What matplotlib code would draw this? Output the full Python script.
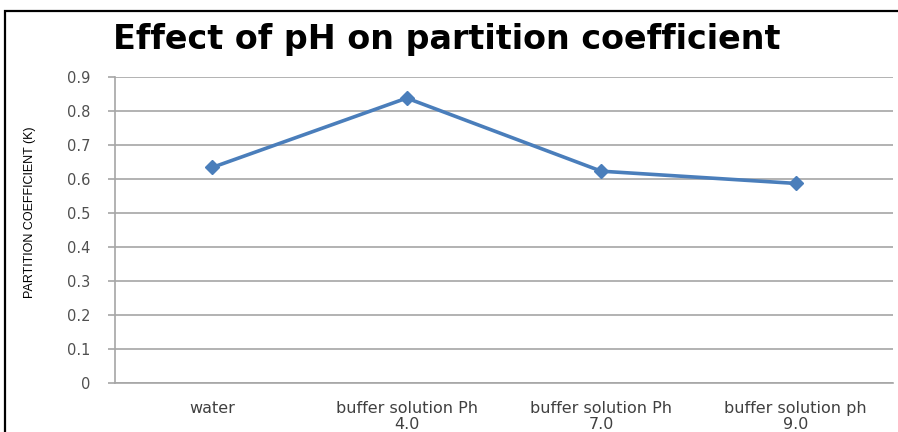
import numpy as np
import matplotlib.pyplot as plt
from matplotlib.patches import Rectangle

categories = ['water', 'buffer solution Ph\n4.0', 'buffer solution Ph\n7.0', 'buffer solution ph\n9.0']
k_values = [0.634, 0.838, 0.623, 0.587]
yticks = [0, 0.1, 0.2, 0.3, 0.4, 0.5, 0.6, 0.7, 0.8, 0.9]
ytick_labels = ['0', '0.1', '0.2', '0.3', '0.4', '0.5', '0.6', '0.7', '0.8', '0.9']

fig = plt.figure(figsize=(8.98, 4.32), dpi=100)
ax = fig.add_axes([115/898, 1-383/432, (893-115)/898, (383-77)/432])

x = np.arange(len(categories))
ax.plot(x, k_values, color='#4a7ebb', lw=2.6, marker='D', ms=7.5,
        markerfacecolor='#4a7ebb', markeredgecolor='#4a7ebb', zorder=3)

ax.set_xlim(-0.5, len(categories) - 0.5)
ax.set_ylim(0, 0.9)
ax.set_yticks(yticks)
ax.set_yticklabels(ytick_labels)
ax.set_xticks(x)
ax.set_xticklabels(categories)
ax.grid(axis='y', color='#a6a6a6', lw=1.2)
ax.set_axisbelow(True)

for s in ['top', 'right']:
    ax.spines[s].set_visible(False)
for s in ['left', 'bottom']:
    ax.spines[s].set_color('#a6a6a6')
    ax.spines[s].set_linewidth(1.2)

ax.tick_params(axis='y', length=5, color='#a6a6a6', width=1.2, pad=13,
               labelsize=10.5, labelcolor='#505050')
ax.tick_params(axis='x', length=0, pad=13, labelsize=11.5, labelcolor='#404040')
for lab in ax.get_xticklabels():
    lab.set_verticalalignment('top')
    lab.set_linespacing(1.05)

ax.set_ylabel('PARTITION COEFFICIENT (K)', fontsize=9,
              family=['Liberation Sans', 'DejaVu Sans'])
ax.yaxis.set_label_coords((36 - 115) / 778, (383 - 212) / 306)

fig.text(113/898, 1 - 40/432, 'Effect of pH on partition coefficient',
         fontsize=24, fontweight='bold', family='DejaVu Sans',
         va='center', ha='left')

fig.patches.append(Rectangle((5/898, -0.1), 1.2, 1.1 - 11/432,
                             transform=fig.transFigure, fill=False,
                             edgecolor='black', lw=1.6, figure=fig))

fig.savefig('out.png', dpi=100)
